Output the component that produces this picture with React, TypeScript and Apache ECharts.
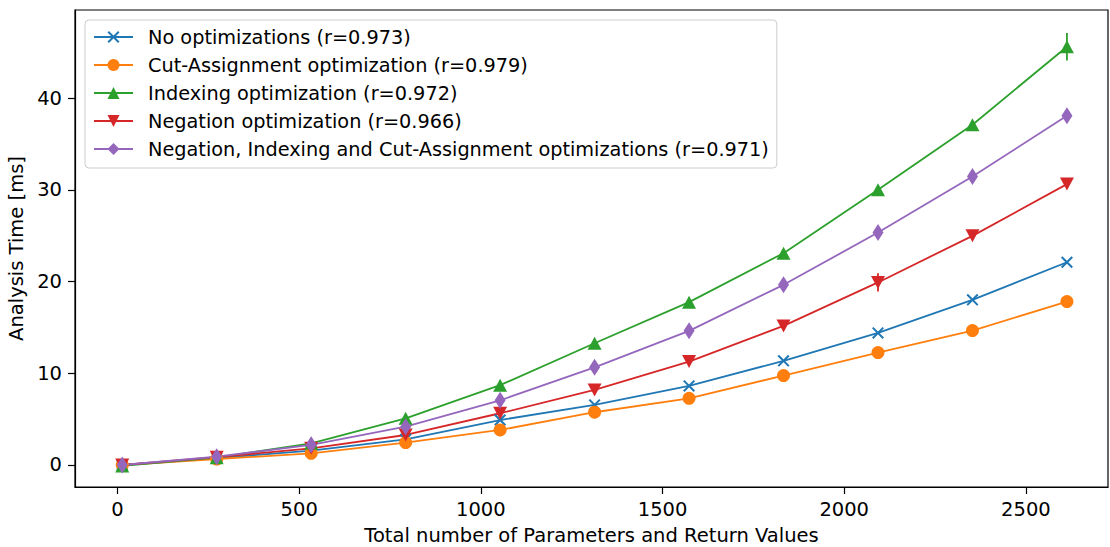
import React, { useEffect, useRef } from "react";
import * as echarts from "echarts";

const xValues = [13, 273, 533, 793, 1053, 1313, 1573, 1833, 2093, 2353, 2613];
const xTicks = [0, 500, 1000, 1500, 2000, 2500];
const yTicks = [0, 10, 20, 30, 40];

const noOpt = [0.0, 0.75, 1.56, 2.8, 4.9, 6.55, 8.62, 11.35, 14.4, 18.0, 22.1];
const cutAssign = [0.0, 0.65, 1.27, 2.44, 3.82, 5.75, 7.27, 9.75, 12.25, 14.65, 17.82];
const indexing = [-0.1, 0.8, 2.36, 5.09, 8.7, 13.27, 17.75, 23.09, 30.0, 37.09, 45.6];
const negation = [0.0, 0.85, 1.82, 3.27, 5.64, 8.18, 11.27, 15.16, 19.9, 24.98, 30.62];
const allOpt = [0.0, 0.9, 2.2, 4.18, 7.05, 10.65, 14.62, 19.64, 25.34, 31.45, 38.07];

const noOptErr = [0, 0, 0, 0, 0, 0, 0, 0, 0, 0, 0];
const cutAssignErr = [0, 0, 0, 0, 0, 0, 0, 0, 0, 0, 0];
const indexingErr = [0, 0, 0, 0, 0, 0, 0, 0, 0, 0, 1.5];
const negationErr = [0, 0, 0, 0, 0, 0, 0, 0, 1.0, 0.3, 0];
const allOptErr = [0, 0, 0, 0, 0, 0, 0, 0, 0, 0, 0];

const seriesNames = [
  "No optimizations (r=0.973)",
  "Cut-Assignment optimization (r=0.979)",
  "Indexing optimization (r=0.972)",
  "Negation optimization (r=0.966)",
  "Negation, Indexing and Cut-Assignment optimizations (r=0.971)",
];

const FONT = "DejaVu Sans";

const X_PATH =
  "path://M12,0L100,88L88,100L0,12Z M88,0L100,12L12,100L0,88Z";
const DOWN_TRI = "path://M0,0L100,0L50,100Z";
const THIN_DIAMOND = "path://M50,0L100,50L50,100L0,50Z";

export default function App() {
  const ref = useRef<HTMLDivElement>(null);

  useEffect(() => {
    const chart = echarts.init(ref.current!, null, { renderer: "svg" });

    const defs = [
      { name: seriesNames[0], ys: noOpt, errs: noOptErr, color: "#1f77b4", symbol: X_PATH, size: 12 },
      { name: seriesNames[1], ys: cutAssign, errs: cutAssignErr, color: "#ff7f0e", symbol: "circle", size: 13 },
      { name: seriesNames[2], ys: indexing, errs: indexingErr, color: "#2ca02c", symbol: "triangle", size: [14, 13] },
      { name: seriesNames[3], ys: negation, errs: negationErr, color: "#d62728", symbol: DOWN_TRI, size: [14, 13] },
      { name: seriesNames[4], ys: allOpt, errs: allOptErr, color: "#9467bd", symbol: THIN_DIAMOND, size: [11, 17] },
    ];

    const series: any[] = [];
    defs.forEach((d) => {
      series.push({
        type: "custom",
        silent: true,
        data: xValues.map((x, i) => [x, d.ys[i] - d.errs[i], d.ys[i] + d.errs[i]]),
        renderItem: (_params: any, api: any) => {
          const p1 = api.coord([api.value(0), api.value(1)]);
          const p2 = api.coord([api.value(0), api.value(2)]);
          return {
            type: "line",
            shape: { x1: p1[0], y1: p1[1], x2: p2[0], y2: p2[1] },
            style: { stroke: d.color, lineWidth: 1.8 },
          };
        },
      });
      series.push({
        type: "line",
        name: d.name,
        data: xValues.map((x, i) => [x, d.ys[i]]),
        symbol: d.symbol,
        symbolSize: d.size,
        showSymbol: true,
        lineStyle: { color: d.color, width: 1.8 },
        itemStyle: { color: d.color, borderWidth: 0 },
        emphasis: { disabled: true },
      });
    });

    const axisText = { fontFamily: FONT, fontSize: 19.5, color: "#000" };

    const option: any = {
      animation: false,
      backgroundColor: "#fff",
      grid: {
        left: 75,
        right: 2,
        top: 10,
        bottom: 60,
        outerBoundsMode: "none",
        containLabel: false,
        show: true,
        borderColor: "#000",
        borderWidth: 1.2,
        backgroundColor: "transparent",
      },
      legend: {
        orient: "vertical",
        left: 85,
        top: 20,
        data: seriesNames,
        itemWidth: 39,
        itemHeight: 15,
        itemGap: 6,
        padding: [6, 8, 8, 8],
        backgroundColor: "rgba(255,255,255,0.8)",
        borderColor: "#cccccc",
        borderWidth: 1,
        borderRadius: 4,
        selectedMode: false,
        textStyle: {
          fontFamily: FONT,
          fontSize: 19.3,
          color: "#000",
          lineHeight: 22,
          padding: [0, 0, 0, 10],
        },
      },
      xAxis: {
        type: "value",
        min: -117,
        max: 2726,
        name: "Total number of Parameters and Return Values",
        nameLocation: "middle",
        nameGap: 38,
        nameTextStyle: axisText,
        axisLine: { show: true, onZero: false, lineStyle: { color: "#000", width: 1.2 } },
        axisTick: { show: true, length: 7, customValues: xTicks, lineStyle: { color: "#000", width: 1.2 } },
        axisLabel: { ...axisText, margin: 12, customValues: xTicks, formatter: (v: number) => String(v) },
        splitLine: { show: false },
      },
      yAxis: {
        type: "value",
        min: -2.4,
        max: 49.6,
        name: "Analysis Time [ms]",
        nameLocation: "middle",
        nameGap: 44,
        nameTextStyle: axisText,
        axisLine: { show: true, onZero: false, lineStyle: { color: "#000", width: 1.2 } },
        axisTick: { show: true, length: 7, customValues: yTicks, lineStyle: { color: "#000", width: 1.2 } },
        axisLabel: { ...axisText, margin: 13, customValues: yTicks, formatter: (v: number) => String(v) },
        splitLine: { show: false },
      },
      series,
    };

    chart.setOption(option);
    return () => chart.dispose();
  }, []);

  return (
    <div
      ref={ref}
      style={{ position: "absolute", left: 0, top: 0, width: 1110, height: 547 }}
    />
  );
}
